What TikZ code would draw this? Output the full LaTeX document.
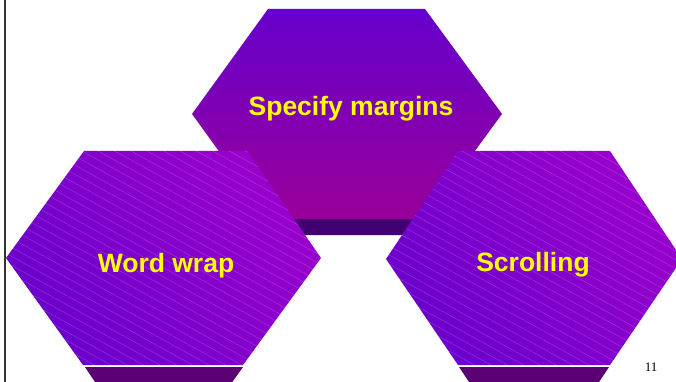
\documentclass[tikz,border=0pt]{standalone}
\usepackage{fontspec}
\setmainfont{Liberation Sans}
\newfontfamily\numfont{Liberation Serif}
\definecolor{hexTopA}{HTML}{6600CC}
\definecolor{hexTopB}{HTML}{990099}
\definecolor{bandTop}{HTML}{400072}
\definecolor{bandLow}{HTML}{5A0072}
\definecolor{hexLowA}{HTML}{6A00CC}
\definecolor{hexLowB}{HTML}{9A00CC}
\definecolor{labelYellow}{HTML}{FFFF00}
\tikzset{
  tophex/.style={top color=hexTopA, bottom color=hexTopB, draw=none},
  lowhex/.style={top color=hexLowB, bottom color=hexLowA, shading angle=-50, draw=none},
  hatchline/.style={white, opacity=0.2, line width=0.5pt},
  bandtop/.style={fill=bandTop, draw=none},
  bandlow/.style={fill=bandLow, draw=none},
  hexlabel/.style={text=labelYellow, font=\bfseries\fontsize{26.5}{30}\selectfont, inner sep=0pt},
  pagenum/.style={font=\numfont\fontsize{13}{15}\selectfont, text=black, inner sep=0pt},
  frameline/.style={line width=2pt, draw=black!80}
}
\begin{document}
\begin{tikzpicture}[x=1pt,y=-1pt]
\useasboundingbox (0,0) rectangle (676,382);
\clip (0,0) rectangle (676,382);
\fill[white] (0,0) rectangle (676,382);
% top hexagon
\fill[bandtop] (268,218) -- (425,218) -- (411,235) -- (282,235) -- cycle;
\shade[tophex] (268,9) -- (425,9) -- (502,114) -- (425,219) -- (268,219) -- (192,114) -- cycle;
% left hexagon
\fill[bandlow] (85,367) -- (243,367) -- (228,388) -- (99,388) -- cycle;
\shade[lowhex] (84,151) -- (247,151) -- (321,258) -- (243,365) -- (83,365) -- (6,258) -- cycle;
\begin{scope}
\clip (84,151) -- (247,151) -- (321,258) -- (243,365) -- (83,365) -- (6,258) -- cycle;
\foreach \k in {-45,...,30} {
  \draw[hatchline] (0,{151+\k*9}) -- (330,{151+\k*9+330*0.55});
}
\end{scope}
% right hexagon
\fill[bandlow] (459,367) -- (609,367) -- (595,388) -- (473,388) -- cycle;
\shade[lowhex] (458,151) -- (610,151) -- (682,259) -- (610,365) -- (458,365) -- (386,259) -- cycle;
\begin{scope}
\clip (458,151) -- (610,151) -- (682,259) -- (610,365) -- (458,365) -- (386,259) -- cycle;
\foreach \k in {-45,...,30} {
  \draw[hatchline] (380,{151+\k*9}) -- (690,{151+\k*9+310*0.55});
}
\end{scope}
% labels
\node[hexlabel] (specify) at (351,109) {Specify margins};
\node[hexlabel] (wordwrap) at (166,265.5) {Word wrap};
\node[hexlabel] (scrolling) at (533,264.5) {Scrolling};
\node[pagenum] (page) at (651,367) {11};
% frame line
\draw[frameline] (4.5,0) -- (4.5,382);
\end{tikzpicture}
\end{document}
